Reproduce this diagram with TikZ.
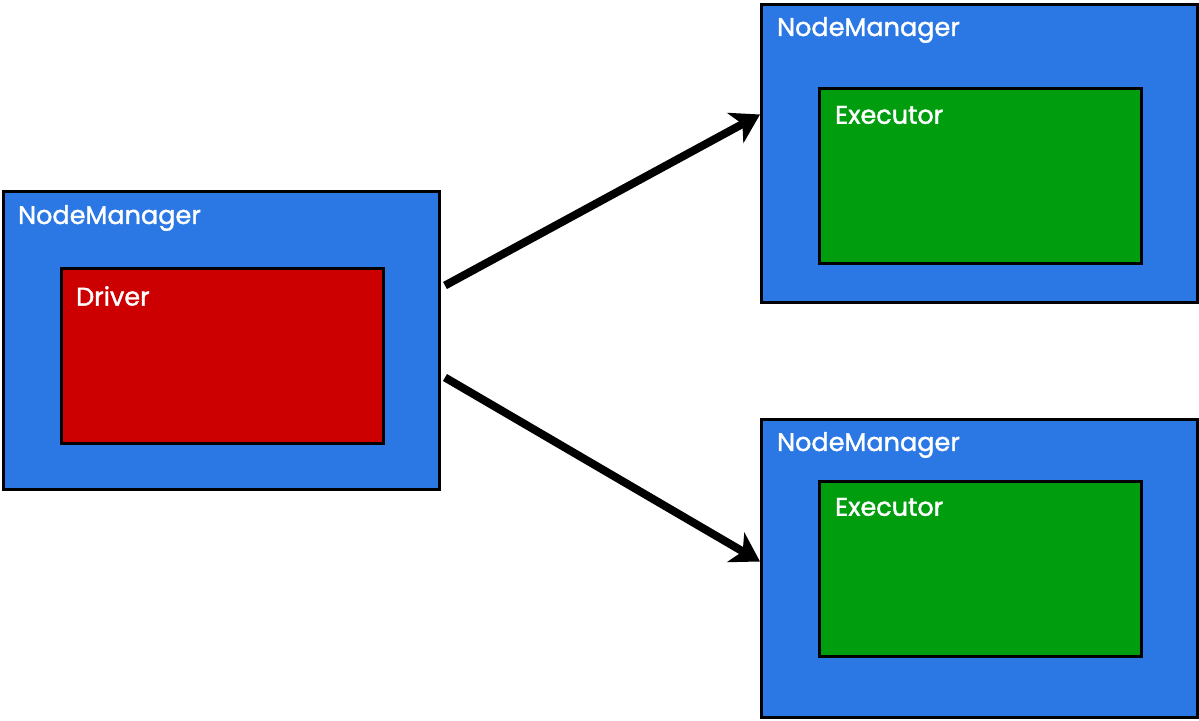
\documentclass[tikz,border=0pt]{standalone}
\usepackage{fontspec}
\setmainfont{Poppins}
\newfontfamily\lblfont{Poppins}[FakeBold=1.5]
\usetikzlibrary{arrows.meta}
\definecolor{nmblue}{HTML}{2B78E4}
\definecolor{drvred}{HTML}{CC0000}
\definecolor{exgreen}{HTML}{009E0F}
\begin{document}
\begin{tikzpicture}[x=1pt,y=-1pt,
  nmbox/.style={draw=black,line width=3pt,fill=nmblue,anchor=north west,inner sep=0pt,minimum width=436pt,minimum height=298pt},
  inbox/.style={draw=black,line width=3pt,anchor=north west,inner sep=0pt,minimum width=322pt,minimum height=175pt},
  lbl/.style={anchor=west,text=white,font=\lblfont\fontsize{25.5}{27}\selectfont,inner sep=0pt},
  conn/.style={line width=8pt,-{Stealth[length=28pt,width=34pt,inset=8pt]}}]
\useasboundingbox (0,0) rectangle (1199,720);
% left
\node[nmbox] (lm) at (2,190) {};
\node[inbox,fill=drvred] (drv) at (60,267) {};
\node[lbl] (lmt) at (18,218) {NodeManager};
\node[lbl] (drvt) at (76,296) {Driver};
% top right
\node[nmbox] (tm) at (760,3) {};
\node[inbox,fill=exgreen] (ex1) at (818,87) {};
\node[lbl] (tmt) at (777,30) {NodeManager};
\node[lbl] (ex1t) at (835,115) {Executor};
% bottom right
\node[nmbox] (bm) at (760,418) {};
\node[inbox,fill=exgreen] (ex2) at (818,480) {};
\node[lbl] (bmt) at (777,445) {NodeManager};
\node[lbl] (ex2t) at (835,507) {Executor};
% arrows
\draw[conn] ([yshift=55pt]lm.east) ++(4,0) -- ([yshift=39pt]tm.west);
\draw[conn] ([yshift=-37pt]lm.east) ++(4,0) -- ([yshift=7pt]bm.west);
\end{tikzpicture}
\end{document}
